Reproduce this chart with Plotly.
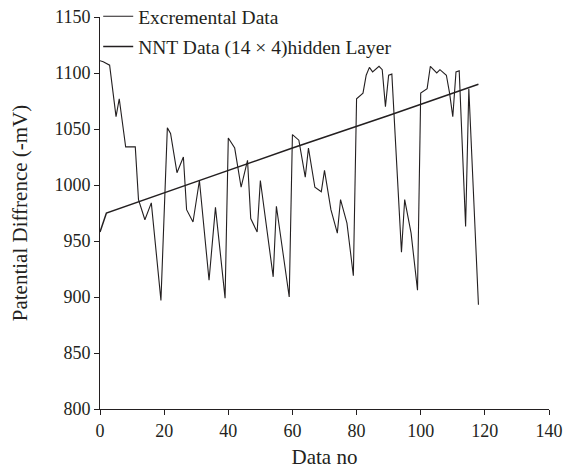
import plotly.graph_objects as go

# Experimental (jagged) series
exp_x = [0, 1, 3, 5, 6, 8, 11, 12, 14, 16, 19, 21, 22, 24, 26, 27, 29, 31, 34, 36,
         39, 40, 42, 44, 46, 47, 49, 50, 54, 55, 59, 60, 62, 64, 65, 67, 69, 70, 72,
         74, 75, 77, 79, 80, 82, 83, 84, 85, 87, 88, 89, 90, 91, 94, 95, 97, 99,
         100, 102, 103, 105, 106, 108, 109, 110, 111, 112, 114, 115, 118]
exp_y = [1111, 1110, 1107, 1061, 1077, 1034, 1034, 987, 969, 984, 897, 1051, 1046, 1011, 1025, 978, 967, 1004, 915, 980,
         899, 1042, 1033, 998, 1022, 970, 958, 1004, 918, 981, 900, 1045, 1040, 1007, 1033, 998, 994, 1013, 978,
         957, 987, 966, 919, 1077, 1082, 1098, 1105, 1101, 1106, 1103, 1070, 1098, 1099, 940, 987, 957, 906,
         1082, 1086, 1106, 1100, 1103, 1098, 1082, 1061, 1101, 1102, 963, 1086, 893]

# NNT series
nnt_x = [0, 2, 30, 60, 90, 118]
nnt_y = [958, 975, 1003, 1033, 1062, 1090]

x_ticks = [0, 20, 40, 60, 80, 100, 120, 140]
y_ticks = [800, 850, 900, 950, 1000, 1050, 1100, 1150]

FONT = "Liberation Serif, Times New Roman, serif"
INK = "#231f20"

fig = go.Figure()
fig.add_trace(go.Scatter(x=exp_x, y=exp_y, mode="lines", name="Excremental Data",
                         legendgroup="a", line=dict(color=INK, width=1.1)))
fig.add_trace(go.Scatter(x=nnt_x, y=nnt_y, mode="lines", name="NNT Data (14 × 4)hidden Layer",
                         legendgroup="b", line=dict(color=INK, width=1.5)))

axis_common = dict(showgrid=False, zeroline=False, showline=True, linecolor=INK, linewidth=1,
                   ticks="outside", ticklen=5, tickcolor=INK, tickwidth=1, automargin=False,
                   ticklabeloverflow="allow",
                   tickfont=dict(family=FONT, size=18, color=INK))
fig.update_xaxes(range=[0, 140], tickvals=x_ticks,
                 title=dict(text="Data no", font=dict(family=FONT, size=21, color=INK), standoff=9),
                 **axis_common)
fig.update_yaxes(range=[800, 1150], tickvals=y_ticks,
                 title=dict(text="Patential Diffrence (-mV)", font=dict(family=FONT, size=21, color=INK), standoff=24),
                 **axis_common)

# page body has an 8px default margin, so the figure is sized to fit the 573x470 window
fig.update_layout(
    width=565, height=462,
    margin=dict(l=92, r=24, t=9, b=61, autoexpand=False),
    paper_bgcolor="white", plot_bgcolor="white",
    font=dict(family=FONT, color=INK),
    legend=dict(x=-0.004, y=1.051, xanchor="left", yanchor="top", bgcolor="rgba(0,0,0,0)",
                font=dict(family=FONT, size=19.5, color=INK), traceorder="grouped", tracegroupgap=2),
)

fig.write_html("out.html")
